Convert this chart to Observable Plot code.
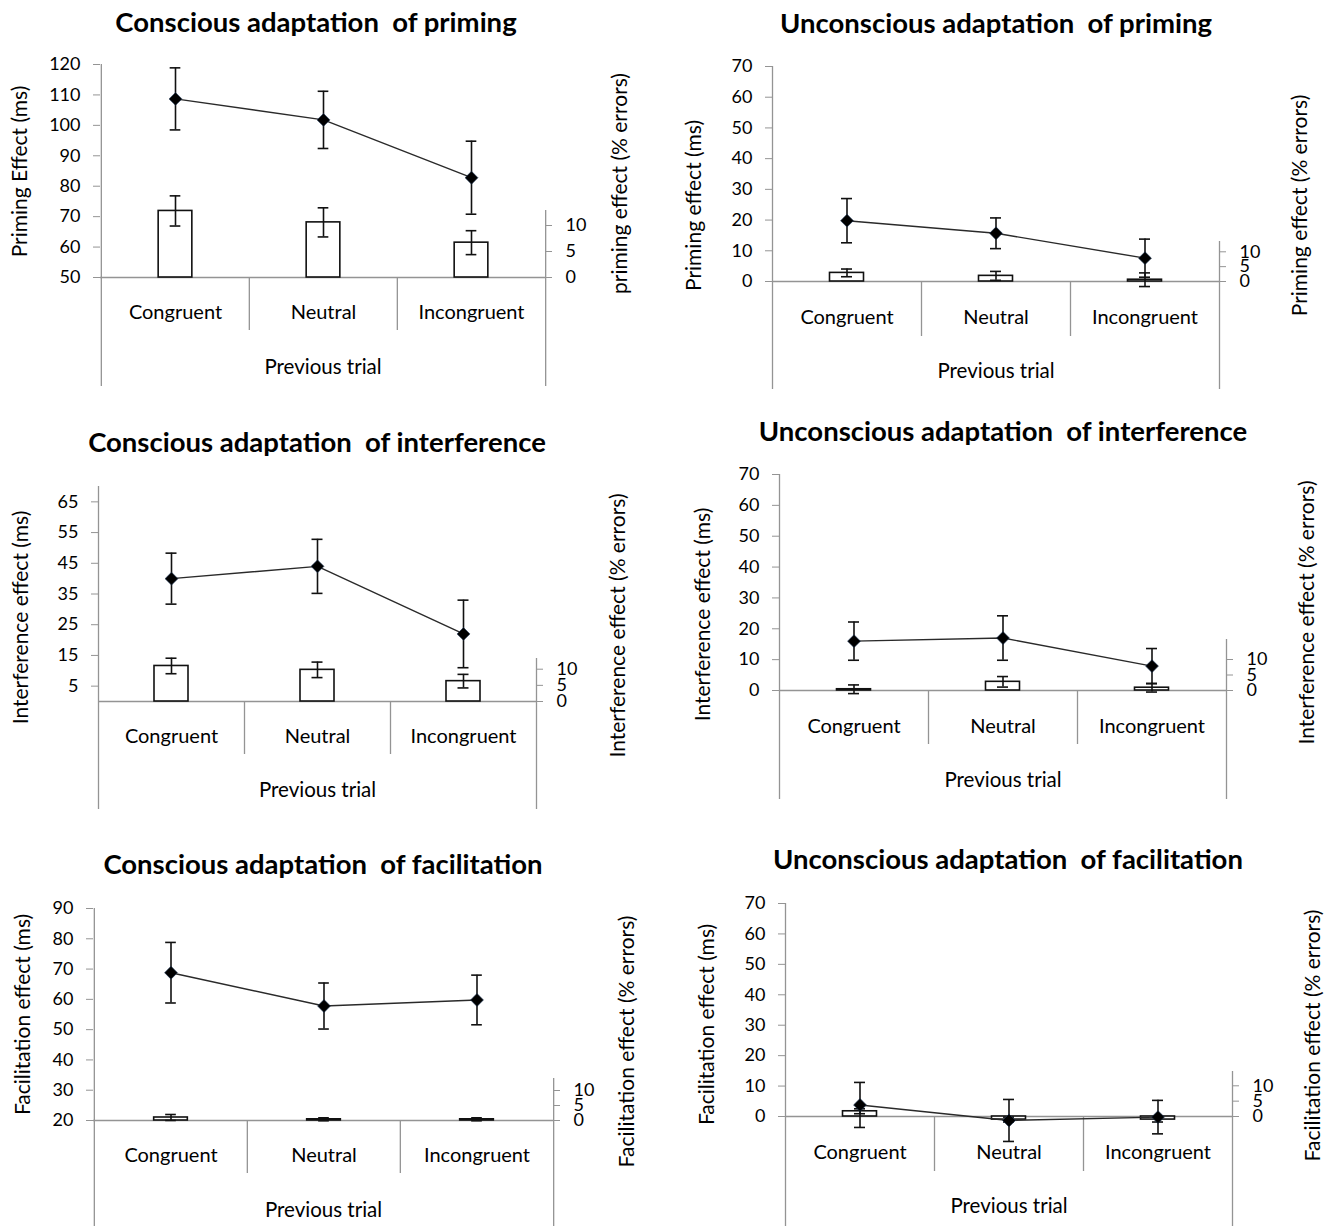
<!DOCTYPE html>
<html>
<head>
<meta charset="utf-8">
<script src="https://cdn.jsdelivr.net/npm/d3@7"></script>
<script src="https://cdn.jsdelivr.net/npm/@observablehq/plot@0.6"></script>
<style>
  body { margin: 0; background: #fff; }
  #root { position: relative; width: 1329px; height: 1226px; overflow: hidden; background: #fff;
          font-family: Lato, "Open Sans", sans-serif; }
  .title { position: absolute; width: 700px; text-align: center; font-weight: 700; font-size: 27.5px;
           line-height: 30px; white-space: pre; color: #000; }
  .panel { position: absolute; }
  .panel svg { overflow: visible; }
</style>
</head>
<body>
<div id="root"></div>
<script>
// ---------------- data ----------------
const categories = ["Congruent", "Neutral", "Incongruent"];
const groupLabel = "Previous trial";

const panelTitles = [
  "Conscious adaptation  of priming",
  "Unconscious adaptation  of priming",
  "Conscious adaptation  of interference",
  "Unconscious adaptation  of interference",
  "Conscious adaptation  of facilitation",
  "Unconscious adaptation  of facilitation"
];
const msLabels = [
  "Priming Effect (ms)", "Priming effect (ms)",
  "Interference effect (ms)", "Interference effect (ms)",
  "Facilitation effect (ms)", "Facilitation effect (ms)"
];
const pctLabels = [
  "priming effect (% errors)", "Priming effect (% errors)",
  "Interference effect (% errors)", "Interference effect (% errors)",
  "Facilitation effect (% errors)", "Facilitation effect (% errors)"
];

// left (ms) axis
const yDomains = [[50, 120], [0, 70], [0, 70], [0, 70], [20, 90], [0, 70]];
const leftTicks = [
  [50, 60, 70, 80, 90, 100, 110, 120],
  [0, 10, 20, 30, 40, 50, 60, 70],
  [5, 15, 25, 35, 45, 55, 65],
  [0, 10, 20, 30, 40, 50, 60, 70],
  [20, 30, 40, 50, 60, 70, 80, 90],
  [0, 10, 20, 30, 40, 50, 60, 70]
];
// right (% errors) axis
const rightTicks = [0, 5, 10];

// reaction-time effect (ms): mean and error
const rtMean = [
  [108.7, 101.8, 82.8],
  [19.8, 15.7, 7.6],
  [40.0, 44.0, 22.0],
  [16.0, 17.0, 7.9],
  [68.8, 57.8, 59.8],
  [3.8, -1.3, -0.2]
];
const rtErr = [
  [10.2, 9.4, 12.0],
  [7.2, 5.0, 6.2],
  [8.3, 8.8, 11.0],
  [6.2, 7.2, 5.7],
  [10.0, 7.6, 8.2],
  [7.4, 6.9, 5.5]
];
// error-rate effect (% errors): mean and error
const pctMean = [
  [12.8, 10.6, 6.7],
  [2.9, 1.9, 0.6],
  [11.0, 9.8, 6.3],
  [0.4, 2.8, 0.9],
  [1.0, 0.4, 0.4],
  [1.7, -1.0, -1.0]
];
const pctErr = [
  [2.9, 2.8, 2.3],
  [1.3, 1.5, 2.3],
  [2.4, 2.4, 2.1],
  [1.4, 1.7, 1.4],
  [1.0, 0.5, 0.5],
  [0.8, 0.8, 0.8]
];

// ---------------- layout (page pixels) ----------------
const layout = [
  {svgLeft: 0,   leftX: 100, rightX: 545,  topY: 64,  baseY: 277,  sepBottom: 330,  outerBottom: 386,  catY: 312,  ptY: 367,  titleX: 316,  titleY: 22,  msX: 20,  msY: 171,  pctX: 620,  pctY: 183,  rightTopY: 210,  rpx: 5.2},
  {svgLeft: 664, leftX: 772, rightX: 1219, topY: 66,  baseY: 281,  sepBottom: 336,  outerBottom: 389,  catY: 317,  ptY: 371,  titleX: 996,  titleY: 23,  msX: 694, msY: 205,  pctX: 1300, pctY: 205,  rightTopY: 241,  rpx: 2.97},
  {svgLeft: 0,   leftX: 98,  rightX: 536,  topY: 486, baseY: 701,  sepBottom: 754,  outerBottom: 809,  catY: 736,  ptY: 790,  titleX: 317,  titleY: 442, msX: 21,  msY: 617,  pctX: 618,  pctY: 625,  rightTopY: 658,  rpx: 3.23},
  {svgLeft: 664, leftX: 779, rightX: 1226, topY: 474, baseY: 690,  sepBottom: 744,  outerBottom: 799,  catY: 726,  ptY: 780,  titleX: 1003, titleY: 431, msX: 703, msY: 614,  pctX: 1307, pctY: 612,  rightTopY: 639,  rpx: 3.1},
  {svgLeft: 0,   leftX: 93,  rightX: 553,  topY: 908, baseY: 1120, sepBottom: 1173, outerBottom: 1226, catY: 1155, ptY: 1210, titleX: 323,  titleY: 864, msX: 23,  msY: 1014, pctX: 627,  pctY: 1041, rightTopY: 1078, rpx: 3.0},
  {svgLeft: 664, leftX: 785, rightX: 1232, topY: 903, baseY: 1116, sepBottom: 1171, outerBottom: 1226, catY: 1152, ptY: 1206, titleX: 1008, titleY: 859, msX: 707, msY: 1024, pctX: 1313, pctY: 1035, rightTopY: 1071, rpx: 3.07}
];

const GRAY = "#949494";
const root = document.getElementById("root");

layout.forEach((L, i) => {
  // title
  const t = document.createElement("div");
  t.className = "title";
  t.textContent = panelTitles[i];
  t.style.left = (L.titleX - 350) + "px";
  t.style.top = (L.titleY - 15) + "px";
  root.appendChild(t);

  const [yMin, yMax] = yDomains[i];
  const lpx = (L.baseY - L.topY) / (yMax - yMin);   // px per ms unit
  const k = L.rpx / lpx;                             // ms units per % unit
  const toLeft = (v) => yMin + v * k;

  const svgTop = L.topY - 16;
  const W = L.svgLeft === 0 ? 664 : 665;
  const H = L.outerBottom + 2 - svgTop;
  const bw = (L.rightX - L.leftX) / 3;

  const rows = categories.map((c, j) => ({
    cat: c,
    rt: rtMean[i][j],
    rtLo: rtMean[i][j] - rtErr[i][j],
    rtHi: rtMean[i][j] + rtErr[i][j],
    pc: toLeft(pctMean[i][j]),
    pcLo: toLeft(pctMean[i][j] - pctErr[i][j]),
    pcHi: toLeft(pctMean[i][j] + pctErr[i][j])
  }));

  const barInset = (bw - 34) / 2;
  const capInset = (bw - 11) / 2;
  const txt = {fill: "#000", textAnchor: "middle", lineAnchor: "middle"};

  const chart = Plot.plot({
    width: W,
    height: H,
    marginLeft: L.leftX - L.svgLeft,
    marginRight: L.svgLeft + W - L.rightX,
    marginTop: L.topY - svgTop,
    marginBottom: svgTop + H - L.outerBottom,
    x: {type: "band", domain: categories, padding: 0, axis: null},
    y: {domain: [yMin, yMax], range: [L.baseY - svgTop, L.topY - svgTop], axis: null},
    style: {fontFamily: "Lato, 'Open Sans', sans-serif", fontSize: "18px", background: "transparent", color: "#000", overflow: "visible"},
    marks: [
      // frame lines of the category axis
      Plot.ruleX([categories[0]], {x: d => d, dx: -bw / 2, stroke: GRAY, strokeWidth: 1.3}),
      Plot.ruleX([categories[2]], {x: d => d, dx: bw / 2, stroke: GRAY, strokeWidth: 1.3, insetTop: L.rightTopY - L.topY}),
      Plot.ruleX(categories.slice(1), {x: d => d, dx: -bw / 2, stroke: GRAY, strokeWidth: 1.3,
        insetTop: L.baseY - L.topY, insetBottom: L.outerBottom - L.sepBottom}),
      Plot.ruleY([yMin], {stroke: GRAY, strokeWidth: 1.3}),
      // axes
      Plot.axisY({ticks: leftTicks[i], tickSize: 7, tickPadding: 13, stroke: GRAY, fill: "#000", fontSize: 18, label: null}),
      Plot.axisY({anchor: "right", ticks: rightTicks.map(toLeft), tickFormat: d => String(Math.round((d - yMin) / k)),
        tickSize: 6, tickPadding: 14, stroke: GRAY, fill: "#000", fontSize: 18, label: null}),
      // % errors bars with error bars
      Plot.barY(rows, {x: "cat", y1: yMin, y2: "pc", fill: "white", stroke: "#111", strokeWidth: 1.6,
        insetLeft: barInset, insetRight: barInset}),
      Plot.ruleX(rows, {x: "cat", y1: "pcLo", y2: "pcHi", stroke: "#111", strokeWidth: 1.6}),
      Plot.tickY(rows, {x: "cat", y: "pcLo", stroke: "#111", strokeWidth: 1.6, insetLeft: capInset, insetRight: capInset}),
      Plot.tickY(rows, {x: "cat", y: "pcHi", stroke: "#111", strokeWidth: 1.6, insetLeft: capInset, insetRight: capInset}),
      // ms line with error bars
      Plot.line(rows, {x: "cat", y: "rt", stroke: "#2a2a2a", strokeWidth: 1.4}),
      Plot.ruleX(rows, {x: "cat", y1: "rtLo", y2: "rtHi", stroke: "#111", strokeWidth: 1.6}),
      Plot.tickY(rows, {x: "cat", y: "rtLo", stroke: "#111", strokeWidth: 1.6, insetLeft: capInset, insetRight: capInset}),
      Plot.tickY(rows, {x: "cat", y: "rtHi", stroke: "#111", strokeWidth: 1.6, insetLeft: capInset, insetRight: capInset}),
      Plot.dot(rows, {x: "cat", y: "rt", symbol: "diamond2", r: 5.8, fill: "#000", stroke: "#1d3557", strokeWidth: 0.6}),
      // text labels
      Plot.text(categories, {x: d => d, frameAnchor: "bottom", dy: L.catY - L.outerBottom, fontSize: 20, ...txt}),
      Plot.text([groupLabel], {frameAnchor: "bottom", dy: L.ptY - L.outerBottom, fontSize: 20.5, ...txt}),
      Plot.text([msLabels[i]], {frameAnchor: "top-left", dx: L.msX - L.leftX, dy: L.msY - L.topY, rotate: -90, fontSize: 21, ...txt}),
      Plot.text([pctLabels[i]], {frameAnchor: "top-right", dx: L.pctX - L.rightX, dy: L.pctY - L.topY, rotate: -90, fontSize: 21, ...txt})
    ]
  });

  const holder = document.createElement("div");
  holder.className = "panel";
  holder.style.left = L.svgLeft + "px";
  holder.style.top = svgTop + "px";
  holder.appendChild(chart);
  root.appendChild(holder);
});
</script>
</body>
</html>
